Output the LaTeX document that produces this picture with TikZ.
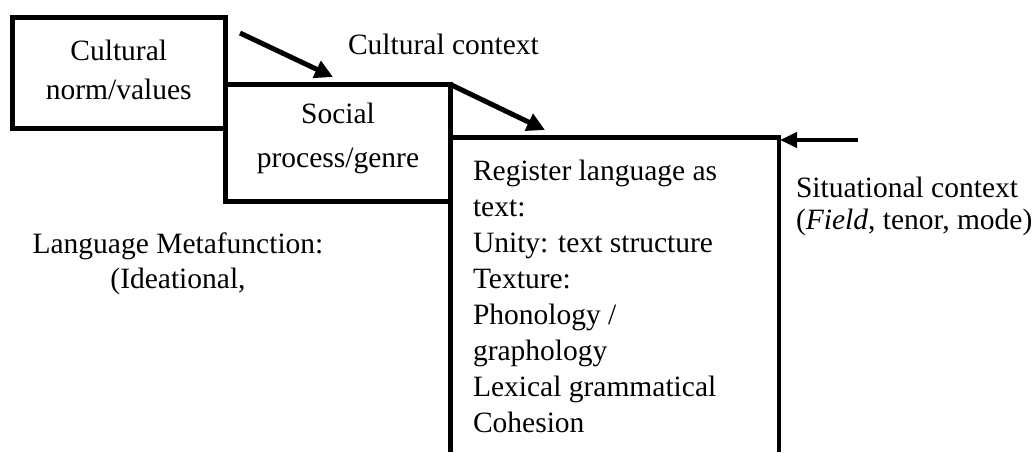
\documentclass[tikz,border=0pt]{standalone}
\usepackage{fontspec}
\setmainfont{Liberation Serif}
\usetikzlibrary{arrows.meta}
\begin{document}
\begin{tikzpicture}[x=1pt,y=-1pt,
  box/.style={draw, line width=5pt, inner sep=0pt, outer sep=0pt},
  frame/.style={line width=4.5pt},
  txt/.style={inner sep=0pt, outer sep=0pt},
  arr/.style={-{Triangle[length=18pt,width=18pt]}, line width=5pt},
  arrthin/.style={-{Triangle[length=17pt,width=15pt]}, line width=4pt}]
\useasboundingbox (0,0) rectangle (1035,452);
% boxes
\node[box, minimum width=213.5pt, minimum height=110.5pt] (cult) at (118.75,72.75) {};
\node[box, minimum width=225pt, minimum height=116.5pt] (soc) at (338,142.75) {};
\node[inner sep=0pt, outer sep=0pt, minimum width=328.5pt, minimum height=314.5pt] (reg) at (614.75,294.75) {};
\draw[frame] (reg.south west) |- (reg.north east) -- (reg.south east);
% texts (base anchor = baseline of the last line)
\node[txt, anchor=base, align=center, font=\fontsize{29.5}{39}\selectfont] (culttext) at (118.75,99) {Cultural\\norm/values};
\node[txt, anchor=base, align=center, font=\fontsize{29.5}{44}\selectfont] (soctext) at (338,167) {Social\\process/genre};
\node[txt, anchor=base west, align=left, font=\fontsize{29.5}{36}\selectfont] (regtext) at (473,432) {Register language as\\text:\\Unity: text structure\\Texture:\\Phonology /\\graphology\\Lexical grammatical\\Cohesion};
\node[txt, anchor=base west, font=\fontsize{29.5}{36}\selectfont] (cultctx) at (348,55) {Cultural context};
\node[txt, anchor=base west, align=left, font=\fontsize{29.5}{32}\selectfont] (sitctx) at (796,229) {Situational context\\(\textit{Field}, tenor, mode)};
\node[txt, anchor=base, align=center, font=\fontsize{29.5}{35}\selectfont] (meta) at (178,288) {Language Metafunction:\\(Ideational,};
% arrows
\coordinate (a1s) at (240,33);
\coordinate (a1e) at (333,77);
\coordinate (a2e) at (545,130);
\coordinate (a3s) at (858,140);
\coordinate (a3e) at (780,140);
\draw[arr] (a1s) -- (a1e);
\draw[arr] (soc.north east) -- (a2e);
\draw[arrthin] (a3s) -- (a3e);
\end{tikzpicture}
\end{document}
